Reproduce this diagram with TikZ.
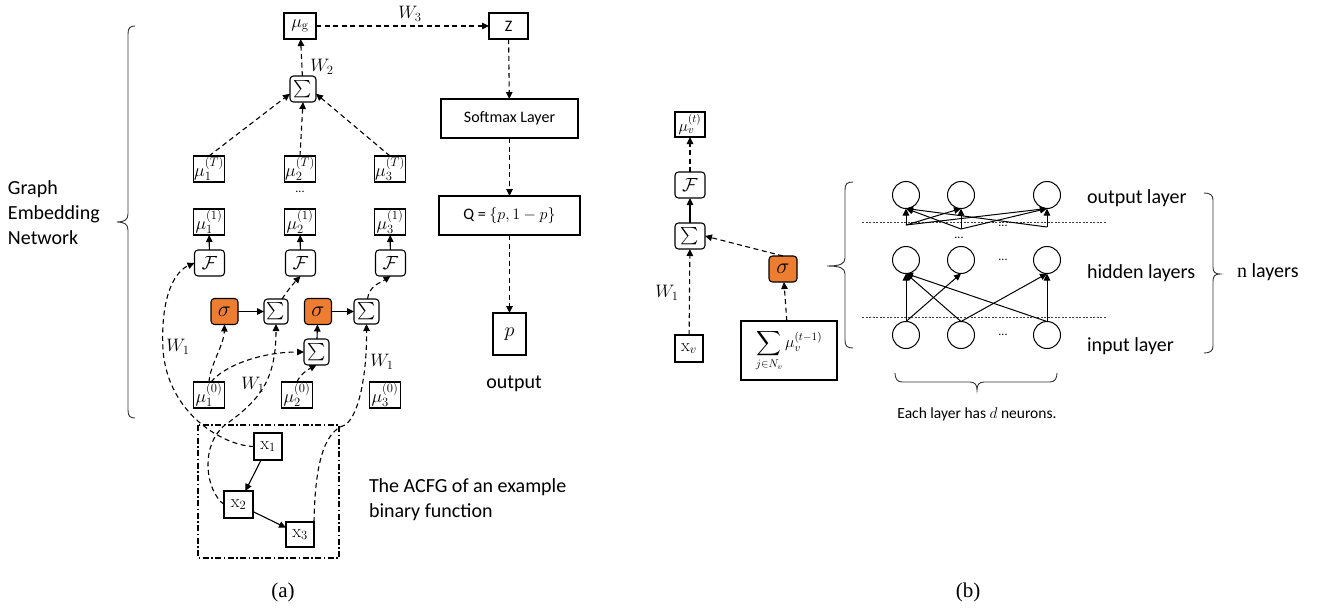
\RequirePackage{fix-cm}
\documentclass[tikz,border=0pt]{standalone}
\usepackage{amsmath}
\usepackage[no-math]{fontspec}
\setmainfont{Carlito}
\newfontfamily\capfont{Liberation Serif}
\usetikzlibrary{arrows.meta,calc}
\definecolor{sigorange}{RGB}{237,125,49}
\begin{document}
\begin{tikzpicture}[x=1pt,y=-1pt,
  >={Triangle[length=7pt,width=6.5pt]},
  every node/.style={inner sep=0pt, outer sep=0pt},
  box/.style={draw, line width=1.1pt, font=\fontsize{18}{18}\selectfont,
              minimum width=31pt, minimum height=26pt},
  rbox/.style={box, rounded corners=3.5pt, minimum width=27pt},
  sumbox/.style={rbox, font=\fontsize{18}{18}\selectfont},
  fbox/.style={rbox, minimum width=30pt, font=\fontsize{19}{19}\selectfont},
  sigbox/.style={rbox, fill=sigorange, font=\fontsize{22}{22}\selectfont},
  xbox/.style={box, font=\fontsize{18}{18}\selectfont},
  dsh/.style={->, line width=1.1pt, dash pattern=on 5pt off 3.5pt},
  sld/.style={->, line width=1.1pt},
  lbl/.style={font=\fontsize{18}{18}\selectfont},
  txt/.style={font=\fontsize{20}{25}\selectfont},
  neuron/.style={draw, circle, line width=1pt, minimum size=27pt},
  bracket/.style={line width=0.9pt, draw=black!80},
]
\useasboundingbox (0,0) rectangle (1320,610);

% ---------------- (a) graph embedding network ----------------
\node[txt, anchor=west, align=left] (gen) at (8,213) {Graph\\Embedding\\Network};
\draw[bracket] (135,26) .. controls (130,26) and (128,28) .. (128,34) -- (128,214)
  .. controls (128,220) and (124,222) .. (117,222)
  .. controls (124,222) and (128,224) .. (128,230) -- (128,410)
  .. controls (128,416) and (130,418) .. (135,418);

\node[box, minimum width=32pt] (mug) at (300,26) {$\mu_{\mathrm{g}}$};
\node[sumbox, minimum width=26pt] (sumT) at (303,89) {$\sum$};
\node[lbl] (w2) at (322,67) {$W_2$};

\foreach \i/\x in {1/209,2/300,3/390}{
  \node[box] (mut\i) at (\x,169) {$\mu_{\i}^{(T)}$};
  \node[box] (muo\i) at (\x,222) {$\mu_{\i}^{(1)}$};
  \node[fbox] (F\i) at (\x+0.5,263) {$\mathcal{F}$};
  \draw[sld] (F\i) -- (muo\i);
}
\node[font=\fontsize{12}{12}\selectfont] (vdots) at (300,192) {...};

\draw[dsh] (mut1.north) -- (sumT.200);
\draw[dsh] (mut2.north) -- (sumT.south);
\draw[dsh] (mut3.north) -- (sumT.-20);
\draw[dsh] (sumT) -- (mug);

% message passing step
\node[sigbox] (sig1) at (224.5,311.5) {$\sigma$};
\node[sumbox, minimum width=24pt, minimum height=25pt] (suma) at (276,311.5) {$\sum$};
\node[sigbox] (sig2) at (318,311.5) {$\sigma$};
\node[sumbox, minimum width=25pt, minimum height=25pt] (sumb) at (366.5,311.5) {$\sum$};
\node[sumbox, minimum width=25pt] (sumc) at (316.5,352) {$\sum$};

\node[box] (mz1) at (209,395) {$\mu_{1}^{(0)}$};
\node[box] (mz2) at (297,395) {$\mu_{2}^{(0)}$};
\node[box] (mz3) at (385,395) {$\mu_{3}^{(0)}$};

\draw[sld] (sig1) -- (suma);
\draw[sld] (sig2) -- (sumb);
\draw[sld] (sumc) -- (sig2);
\draw[dsh] ($(suma.north)+(6,0)$) .. controls (288,290) and (293,284) .. (F2.south);
\draw[dsh] ($(sumb.north)+(1,0)$) .. controls (369,286) and (380,283) .. (F3.south);
\draw[dsh] (mz1.north) .. controls (210,365) and (224,345) .. (sig1.south);
\draw[dsh] ($(mz1.north)+(2,0)$) .. controls (225,365) and (262,352) .. (sumc.west);
\draw[dsh] (mz2.north) .. controls (300,374) and (309,369) .. (sumc.south);

% attributed control flow graph
\node[xbox, minimum width=28pt, minimum height=27pt] (x1) at (268,446.5) {$\mathrm{x}_1$};
\node[xbox, minimum width=29pt, minimum height=27pt] (x2) at (238.5,504.5) {$\mathrm{x}_2$};
\node[xbox, minimum width=28pt, minimum height=25pt] (x3) at (300,534.5) {$\mathrm{x}_3$};
\draw[sld] (x1) -- (x2);
\draw[sld] (x2) -- (x3);
\draw[line width=1.1pt, dash pattern=on 6pt off 2.5pt on 1.5pt off 2.5pt] (198,425) rectangle (339,558);

\draw[dsh] (x1.west) .. controls (225,446) and (168,415) .. (163,350)
  .. controls (160,290) and (178,270) .. (F1.west);
\node[lbl] (w1a) at (178,347) {$W_1$};
\draw[dsh] (x2.west) .. controls (205,490) and (200,445) .. (225,425)
  .. controls (260,400) and (276,380) .. (suma.south);
\node[lbl] (w1b) at (253,385) {$W_1$};
\draw[dsh] (x3.north east) .. controls (315,470) and (322,432) .. (345,425)
  .. controls (360,415) and (367,370) .. (sumb.south);
\node[lbl] (w1c) at (382,362) {$W_1$};

\node[txt, anchor=west, align=left] (acfg) at (369,500) {The ACFG of an example\\binary function};

% output branch
\node[box, minimum width=39pt, font=\fontsize{16}{16}\selectfont] (Z) at (508.5,26) {Z};
\node[box, minimum width=137pt, minimum height=39pt, font=\fontsize{16}{16}\selectfont] (soft) at (509.5,118.5) {Softmax Layer};
\node[box, minimum width=141pt, minimum height=39pt, font=\fontsize{16}{16}\selectfont] (Q) at (509.5,215.5) {Q = $\{p, 1 - p\}$};
\node[box, minimum width=33pt, minimum height=42pt, font=\fontsize{20}{20}\selectfont] (p) at (509.5,334) {$p$};
\node[txt] (outp) at (514,384) {output};
\draw[dsh] (mug) -- (Z);
\node[lbl] (w3) at (410,14) {$W_3$};
\draw[dsh] (Z) -- (soft);
\draw[dsh] (soft) -- (Q);
\draw[dsh] (Q) -- (p);

\node[font=\capfont\fontsize{21}{21}\selectfont] (capa) at (283,592) {(a)};

% ---------------- (b) single node update ----------------
\node[box, minimum width=30pt, minimum height=25pt, font=\fontsize{16}{16}\selectfont] (muv) at (690,124.5) {$\mu_v^{(t)}$};
\node[fbox] (Fb) at (690,185) {$\mathcal{F}$};
\node[sumbox, minimum width=30pt] (sumv) at (690,236) {$\sum$};
\node[xbox, minimum width=28pt, minimum height=27pt] (xv) at (689,348.5) {$\mathrm{x}_v$};
\node[sigbox, minimum width=28pt] (sigb) at (783,269) {$\sigma$};
\node[box, minimum width=96pt, minimum height=59pt, font=\fontsize{16}{16}\selectfont] (sumN) at (789,350.5) {$\displaystyle\sum_{j\in N_v}\mu_v^{(t-1)}$};
\draw[dsh] (xv) -- (sumv);
\node[lbl] (w1v) at (667,293) {$W_1$};
\draw[sld] (sumv) -- (Fb);
\draw[dsh] (Fb) -- (muv);
\draw[dsh] (sigb.north) -- (sumv.east);
\draw[dsh] (sumN) -- (sigb);

% neural network F
\draw[bracket] (853,182) .. controls (847,182) and (845,184) .. (845,190) -- (845,258)
  .. controls (845,264) and (840,266) .. (827,266)
  .. controls (840,266) and (845,268) .. (845,274) -- (845,340)
  .. controls (845,346) and (847,348) .. (853,348);

\foreach \c/\x in {1/906,2/961,3/1047}{
  \node[neuron] (in\c) at (\x,335) {};
  \node[neuron] (hid\c) at (\x,260) {};
  \node[neuron] (out\c) at (\x,195) {};
}
\draw[line width=0.8pt, dash pattern=on 2pt off 1.5pt, draw=black!75] (862,222) -- (1107,222);
\draw[line width=0.8pt, dash pattern=on 2pt off 1.5pt, draw=black!75] (862,317) -- (1107,317);

\foreach \a/\b in {1/1,1/2,2/1,2/3,3/1,3/3}
  \draw[sld, line width=1pt] (in\a.north) -- (hid\b.south);

\coordinate (o1) at (906,225);
\coordinate (o2) at (961,229);
\coordinate (o3) at (1047,227);
\foreach \a/\b in {1/1,1/2,1/3,2/1,2/2,2/3,3/1,3/3}
  \draw[sld, line width=1pt] (o\a) -- (out\b.south);

\node[font=\fontsize{12}{12}\selectfont] (d1) at (1003,335) {...};
\node[font=\fontsize{12}{12}\selectfont] (d2) at (1003,260) {...};
\node[font=\fontsize{12}{12}\selectfont] (d3) at (1003,226) {...};
\node[font=\fontsize{12}{12}\selectfont] (d4) at (959,238) {...};

\node[txt, anchor=west] (lout) at (1087,198) {output layer};
\node[txt, anchor=west] (lhid) at (1087,273) {hidden layers};
\node[txt, anchor=west] (lin) at (1087,346) {input layer};

\draw[bracket] (1204,193) .. controls (1210,193) and (1213,195) .. (1213,200) -- (1213,267)
  .. controls (1213,272) and (1215,274) .. (1220,274)
  .. controls (1215,274) and (1213,276) .. (1213,281) -- (1213,346)
  .. controls (1213,351) and (1210,353) .. (1204,353);
\node[txt, anchor=west] (nl) at (1237,272) {{\capfont n} layers};

\draw[bracket] (895,373) .. controls (895,378) and (897,382) .. (902,382) -- (970,382)
  .. controls (975,382) and (977,385) .. (977,390)
  .. controls (977,385) and (979,382) .. (984,382) -- (1050,382)
  .. controls (1055,382) and (1057,378) .. (1057,373);
\node[font=\fontsize{15.5}{15.5}\selectfont] (each) at (977,414) {Each layer has $d$ neurons.};

\node[font=\capfont\fontsize{21}{21}\selectfont] (capb) at (968,592) {(b)};
\end{tikzpicture}
\end{document}
